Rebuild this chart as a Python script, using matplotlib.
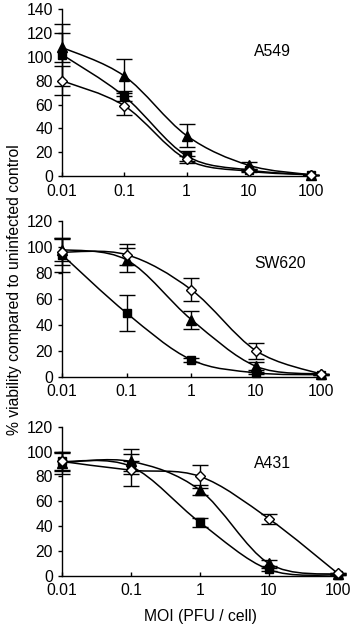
import numpy as np
import matplotlib
matplotlib.use("Agg")
import matplotlib.pyplot as plt
from matplotlib.path import Path
from matplotlib.patches import PathPatch

plt.rcParams['font.family'] = ['Liberation Sans', 'DejaVu Sans']

moi = [0.01, 0.1, 1, 10, 100]
xticklabels = ["0.01", "0.1", "1", "10", "100"]

panels = ["A549", "SW620", "A431"]

# A549
a549_tri = [108, 84, 34, 9, 1]
a549_tri_err = [12, 14, 10, 3, 0]
a549_sq = [102, 67, 17, 5, 1]
a549_sq_err = [26, 4, 4, 1, 0]
a549_dia = [80, 59, 14, 4, 1]
a549_dia_err = [12, 8, 3, 1, 0]

# SW620
sw620_tri = [98, 90, 44, 8, 2]
sw620_tri_err = [9, 9, 7, 3, 0]
sw620_sq = [94, 49, 13, 3, 1.5]
sw620_sq_err = [13, 14, 1.5, 1, 0]
sw620_dia = [96, 94, 67, 20, 2]
sw620_dia_err = [10, 8, 9, 6, 0]

# A431
a431_tri = [91, 92, 69, 10, 1]
a431_tri_err = [9, 10, 4, 2.5, 0]
a431_sq = [92, 88, 43, 5, 0.5]
a431_sq_err = [8, 4, 3.5, 1, 0]
a431_dia = [92, 85, 80, 46, 2]
a431_dia_err = [7, 13, 9, 4, 0]

data = {
    "A549": [(a549_tri, a549_tri_err), (a549_sq, a549_sq_err), (a549_dia, a549_dia_err)],
    "SW620": [(sw620_tri, sw620_tri_err), (sw620_sq, sw620_sq_err), (sw620_dia, sw620_dia_err)],
    "A431": [(a431_tri, a431_tri_err), (a431_sq, a431_sq_err), (a431_dia, a431_dia_err)],
}
ymax = {"A549": 140, "SW620": 120, "A431": 120}

W, H = 351, 626
fig = plt.figure(figsize=(W / 100, H / 100), dpi=100)
FS = 11.3

# pixel geometry: (top px of ymax, bottom px of 0, x px of 100, right end px)
geom = {
    "A549": (9.3, 176.0, 311.0, 315.0),
    "SW620": (221.0, 376.7, 320.7, 325.0),
    "A431": (426.7, 575.7, 337.5, 342.0),
}
label_pos = {"A549": (272, 52), "SW620": (280, 263), "A431": (272, 463)}


def smooth_path(xs, ys):
    u = np.log10(np.asarray(xs, float))
    v = np.asarray(ys, float)
    P = np.column_stack([u, v])
    n = len(P)
    verts = [P[0]]
    codes = [Path.MOVETO]
    for i in range(n - 1):
        p0 = P[i - 1] if i > 0 else P[i]
        p1 = P[i]
        p2 = P[i + 1]
        p3 = P[i + 2] if i + 2 < n else P[i + 1]
        c1 = p1 + (p2 - p0) / 6.0
        c2 = p2 - (p3 - p1) / 6.0
        verts += [c1, c2, p2]
        codes += [Path.CURVE4] * 3
    verts = np.array(verts)
    verts[:, 0] = 10 ** verts[:, 0]
    return Path(verts, codes)


left_px = 62.0
for name in panels:
    top, bot, x100, xend = geom[name]
    dec = (x100 - left_px) / 4.0
    ax = fig.add_axes([left_px / W, 1 - bot / H, (xend - left_px) / W, (bot - top) / H])
    ax.set_xscale('log')
    ax.set_xlim(0.01, 100 * 10 ** ((xend - x100) / dec))
    ax.set_ylim(0, ymax[name])
    ax.set_facecolor('none')
    for s in ['top', 'right']:
        ax.spines[s].set_visible(False)
    for s in ['left', 'bottom']:
        ax.spines[s].set_linewidth(1.0)
    ax.set_yticks(np.arange(0, ymax[name] + 1, 20))
    ax.set_xticks(moi)
    ax.set_xticklabels(xticklabels)
    ax.xaxis.set_minor_locator(matplotlib.ticker.NullLocator())
    ax.tick_params(axis='y', direction='out', length=3, width=1, labelsize=FS, pad=3.5)
    ax.tick_params(axis='x', direction='in', length=3, width=1, labelsize=FS, pad=5.5)

    markers = [('^', 'black', 6.5), ('s', 'black', 5.5), ('D', 'white', 4.8)]
    for (vals, errs), (mk, fc, ms) in zip(data[name], markers):
        pp = PathPatch(smooth_path(moi, vals), fill=False, edgecolor='black',
                       linewidth=1.1, transform=ax.transData, clip_on=False)
        ax.add_patch(pp)
        ax.errorbar(moi, vals, yerr=errs, fmt='none', ecolor='black',
                    elinewidth=1.0, capsize=5.5, capthick=1.0, clip_on=False)
        ax.plot(moi, vals, linestyle='none', marker=mk, markersize=ms,
                markerfacecolor=fc, markeredgecolor='black', markeredgewidth=1.0,
                clip_on=False, zorder=5)
    lx, ly = label_pos[name]
    fig.text(lx / W, 1 - ly / H, name, ha='center', va='center', fontsize=FS)

fig.text(15 / W, 1 - 290 / H, "% viability compared to uninfected control",
         rotation=90, ha='center', va='center', fontsize=FS)
fig.text(200 / W, 1 - 616 / H, "MOI (PFU / cell)", ha='center', va='center', fontsize=FS)

fig.savefig("out.png", dpi=100)
